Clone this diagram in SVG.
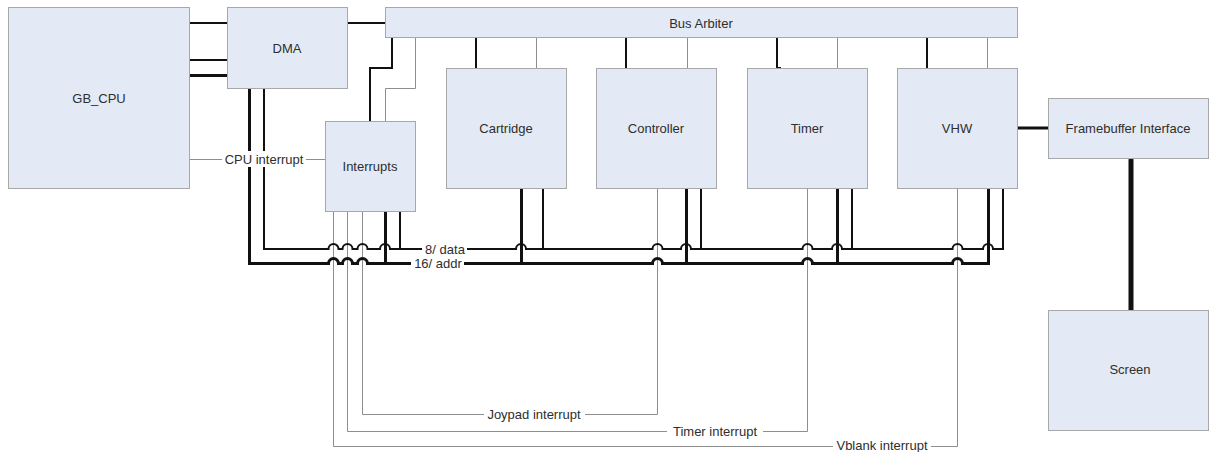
<svg xmlns="http://www.w3.org/2000/svg" width="1210" height="452" viewBox="0 0 1210 452">
  <style>
    .box { fill: #E4EAF5; stroke: #A8A8A8; stroke-width: 1; }
    .lbl { font-family: "Liberation Sans", Arial, sans-serif; font-size: 13px; fill: #2E2E2E; text-anchor: middle; dominant-baseline: central; }
    .thin { fill: none; stroke: #8E8E8E; stroke-width: 1; }
    .med { fill: none; stroke: #111; stroke-width: 2; }
    .bold { fill: none; stroke: #111; stroke-width: 3; }
    .heavy { fill: none; stroke: #111; stroke-width: 5; stroke-linecap: round; }
    .bg { fill: #FFFFFF; }
  </style>
  <rect width="1210" height="452" fill="#FFFFFF"/>

  <!-- connectors -->
  <g id="connectors">
    <!-- CPU <-> DMA <-> arbiter -->
    <line class="med" x1="189" y1="23" x2="227" y2="23"/>
    <line class="med" x1="189" y1="60" x2="227" y2="60"/>
    <line class="bold" x1="189" y1="75.5" x2="227" y2="75.5"/>
    <line class="med" x1="347" y1="23" x2="385" y2="23"/>

    <!-- arbiter to peripherals -->
    <path class="med" d="M392,37 V68 H370 V121"/>
    <path class="thin" d="M415.5,37 V88.5 H385.5 V121"/>
    <line class="med" x1="476" y1="37" x2="476" y2="68"/>
    <line class="thin" x1="536.5" y1="37" x2="536.5" y2="68"/>
    <line class="med" x1="626" y1="37" x2="626" y2="68"/>
    <line class="thin" x1="687.5" y1="37" x2="687.5" y2="68"/>
    <path class="med" d="M777,37 V68 H781"/>
    <line class="thin" x1="837.5" y1="37" x2="837.5" y2="68"/>
    <line class="med" x1="927" y1="37" x2="927" y2="68"/>
    <line class="thin" x1="987.5" y1="37" x2="987.5" y2="68"/>

    <!-- interrupt request lines -->
    <line class="thin" x1="189" y1="159.5" x2="325" y2="159.5"/>
    <path class="thin" d="M657.5,188 V414.5 H362.5 V211"/>
    <path class="thin" d="M807.5,188 V431.5 H347.5 V211"/>
    <path class="thin" d="M957.5,188 V446.5 H333.5 V211"/>

    <!-- 8-bit data bus -->
    <path class="med" d="M264,88 V249 H328.5 a5,5 0 0 1 10,0 H342.5 a5,5 0 0 1 10,0 H357.5 a5,5 0 0 1 10,0 H380 a5,5 0 0 1 10,0 H516 a5,5 0 0 1 10,0 H652.5 a5,5 0 0 1 10,0 H681 a5,5 0 0 1 10,0 H802.5 a5,5 0 0 1 10,0 H832 a5,5 0 0 1 10,0 H952.5 a5,5 0 0 1 10,0 H983 a5,5 0 0 1 10,0 H1003 V188"/>
    <!-- 16-bit address bus -->
    <path class="bold" d="M249.5,88 V263.5 H328.5 a5,5 0 0 1 10,0 H342.5 a5,5 0 0 1 10,0 H357.5 a5,5 0 0 1 10,0 H652.5 a5,5 0 0 1 10,0 H802.5 a5,5 0 0 1 10,0 H952.5 a5,5 0 0 1 10,0 H988.5 V188"/>

    <!-- bus taps -->
    <line class="bold" x1="385.5" y1="211" x2="385.5" y2="263.5"/>
    <line class="med" x1="400" y1="211" x2="400" y2="249"/>
    <line class="bold" x1="521.5" y1="188" x2="521.5" y2="263.5"/>
    <line class="med" x1="543" y1="188" x2="543" y2="249"/>
    <line class="bold" x1="686.5" y1="188" x2="686.5" y2="263.5"/>
    <line class="med" x1="701" y1="188" x2="701" y2="249"/>
    <line class="bold" x1="837.5" y1="188" x2="837.5" y2="263.5"/>
    <line class="med" x1="852" y1="188" x2="852" y2="249"/>

    <!-- video path -->
    <line class="bold" x1="1018" y1="128" x2="1048" y2="128" stroke-linecap="round"/>
    <line class="heavy" x1="1131" y1="160" x2="1131" y2="310"/>

    <!-- connector labels -->
    <rect class="bg" x="222" y="151" width="84" height="16"/>
    <text class="lbl" x="264" y="159">CPU interrupt</text>
    <rect class="bg" x="422" y="242" width="45" height="14"/>
    <text class="lbl" x="445" y="249">8/ data</text>
    <rect class="bg" x="411" y="257" width="53" height="13"/>
    <text class="lbl" x="438" y="263">16/ addr</text>
    <rect class="bg" x="484" y="406" width="101" height="16"/>
    <text class="lbl" x="534" y="414">Joypad interrupt</text>
    <rect class="bg" x="667" y="423" width="96" height="16"/>
    <text class="lbl" x="715" y="431">Timer interrupt</text>
    <rect class="bg" x="833" y="438" width="98" height="14"/>
    <text class="lbl" x="882" y="445">Vblank interrupt</text>
  </g>

  <!-- nodes -->
  <g id="gb_cpu">
    <rect class="box" x="8.5" y="7.5" width="181" height="181"/>
    <text class="lbl" x="99" y="98">GB_CPU</text>
  </g>
  <g id="dma">
    <rect class="box" x="227.5" y="7.5" width="120" height="81"/>
    <text class="lbl" x="287" y="48">DMA</text>
  </g>
  <g id="bus_arbiter">
    <rect class="box" x="385.5" y="7.5" width="632" height="30"/>
    <text class="lbl" x="701" y="23">Bus Arbiter</text>
  </g>
  <g id="interrupts">
    <rect class="box" x="325.5" y="121.5" width="90" height="90"/>
    <text class="lbl" x="370" y="166">Interrupts</text>
  </g>
  <g id="cartridge">
    <rect class="box" x="446.5" y="68.5" width="120" height="120"/>
    <text class="lbl" x="506" y="128">Cartridge</text>
  </g>
  <g id="controller">
    <rect class="box" x="596.5" y="68.5" width="120" height="120"/>
    <text class="lbl" x="656" y="128">Controller</text>
  </g>
  <g id="timer">
    <rect class="box" x="747.5" y="68.5" width="120" height="120"/>
    <text class="lbl" x="807" y="128">Timer</text>
  </g>
  <g id="vhw">
    <rect class="box" x="897.5" y="68.5" width="120" height="120"/>
    <text class="lbl" x="957" y="128">VHW</text>
  </g>
  <g id="framebuffer_interface">
    <rect class="box" x="1048.5" y="98.5" width="160" height="60"/>
    <text class="lbl" x="1128" y="128">Framebuffer Interface</text>
  </g>
  <g id="screen">
    <rect class="box" x="1048.5" y="310.5" width="160" height="120"/>
    <text class="lbl" x="1130" y="369">Screen</text>
  </g>
</svg>
